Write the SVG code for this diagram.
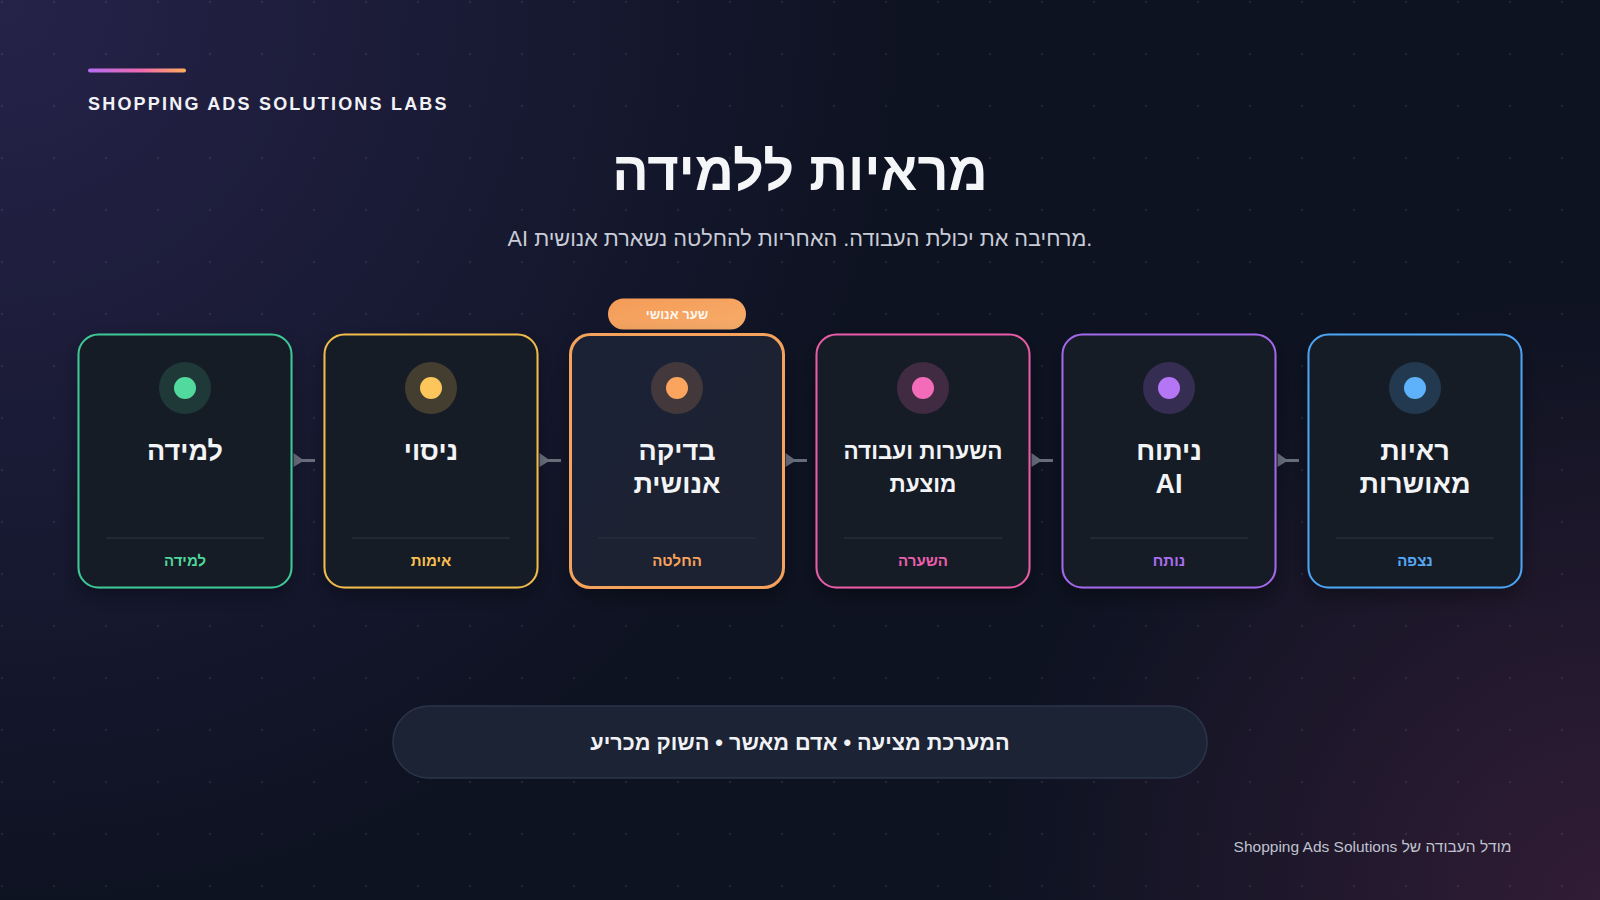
<svg xmlns="http://www.w3.org/2000/svg" width="1600" height="900" viewBox="0 0 1600 900">
<defs>
<radialGradient id="bgTL" cx="0" cy="0" r="900" gradientUnits="userSpaceOnUse">
<stop offset="0" stop-color="#2a2550" stop-opacity="0.85"/>
<stop offset="1" stop-color="#2a2550" stop-opacity="0"/>
</radialGradient>
<radialGradient id="bgBR" cx="1600" cy="900" r="600" gradientUnits="userSpaceOnUse">
<stop offset="0" stop-color="#3a1f3a" stop-opacity="0.8"/>
<stop offset="1" stop-color="#3a1f3a" stop-opacity="0"/>
</radialGradient>
<pattern id="dots" x="0" y="0" width="52" height="52" patternUnits="userSpaceOnUse">
<circle cx="2" cy="2" r="1.1" fill="#ffffff" fill-opacity="0.09"/>
</pattern>
<linearGradient id="accent" x1="0" y1="0" x2="1" y2="0">
<stop offset="0" stop-color="#b36cf2"/>
<stop offset="0.55" stop-color="#f06aae"/>
<stop offset="1" stop-color="#ffad5e"/>
</linearGradient>
<linearGradient id="badge" x1="0" y1="0" x2="1" y2="1">
<stop offset="0" stop-color="#f59b58"/>
<stop offset="1" stop-color="#f7ad6a"/>
</linearGradient>
<linearGradient id="card" x1="0" y1="0" x2="0" y2="1">
<stop offset="0" stop-color="#171c28"/>
<stop offset="1" stop-color="#151a25"/>
</linearGradient>
<linearGradient id="cardHi" x1="0" y1="0" x2="1" y2="1">
<stop offset="0" stop-color="#1c2336"/>
<stop offset="1" stop-color="#1a2030"/>
</linearGradient>
<filter id="shadow" x="-20%" y="-20%" width="140%" height="150%">
<feDropShadow dx="0" dy="8" stdDeviation="10" flood-color="#000000" flood-opacity="0.35"/>
</filter>
</defs>
<style>
.t{font-family:"Liberation Sans","DejaVu Sans",sans-serif}
.cardbox{fill:url(#card);stroke-width:2}
.title{font-size:27px;font-weight:bold;fill:#f3f4f6;text-anchor:middle}
.small{font-size:22.5px}
.lbl{font-size:15px;font-weight:bold;text-anchor:middle}
.div{stroke:#272d3b;stroke-width:1.5}
.conn{stroke:#6b7280;stroke-width:3;fill:none}
.arr{fill:#6b7280}
</style>
<rect width="1600" height="900" fill="#0e1322"/>
<rect width="1600" height="900" fill="url(#bgTL)"/>
<rect width="1600" height="900" fill="url(#bgBR)"/>
<rect width="1600" height="900" fill="url(#dots)"/>

<g id="header">
<rect x="88" y="68.5" width="98" height="4" rx="2" fill="url(#accent)"/>
<text class="t" x="88" y="110" font-size="18" font-weight="bold" letter-spacing="2.2" fill="#f1f2f6">SHOPPING ADS SOLUTIONS LABS</text>
<text class="t" x="800" y="190" font-size="54" font-weight="bold" fill="#f5f6f8" text-anchor="middle">מראיות ללמידה</text>
<text class="t" x="800" y="246" font-size="21.7" fill="#c9ccd6" text-anchor="middle">AI מרחיבה את יכולת העבודה. האחריות להחלטה נשארת אנושית.</text>
</g>

<g id="connectors">
<polygon class="arr" points="293.5,453 293.5,467 304,460.5"/><line class="conn" x1="300" y1="460.5" x2="315" y2="460.5"/>
<polygon class="arr" points="539.5,453 539.5,467 550,460.5"/><line class="conn" x1="546" y1="460.5" x2="561" y2="460.5"/>
<polygon class="arr" points="785.5,453 785.5,467 796,460.5"/><line class="conn" x1="792" y1="460.5" x2="807" y2="460.5"/>
<polygon class="arr" points="1031.5,453 1031.5,467 1042,460.5"/><line class="conn" x1="1038" y1="460.5" x2="1053" y2="460.5"/>
<polygon class="arr" points="1277.5,453 1277.5,467 1288,460.5"/><line class="conn" x1="1284" y1="460.5" x2="1299" y2="460.5"/>
</g>

<g id="node-learning">
<rect class="cardbox" x="78.5" y="334.5" width="213" height="253" rx="20" stroke="#3ec996" filter="url(#shadow)"/>
<circle cx="185" cy="388" r="26" fill="#4fd69b" fill-opacity="0.16"/>
<circle cx="185" cy="388" r="11" fill="#52d99d"/>
<text class="t title" x="185" y="460">למידה</text>
<line class="div" x1="106" y1="538" x2="264" y2="538"/>
<text class="t lbl" x="185" y="566" fill="#4fd69b">למידה</text>
</g>

<g id="node-trial">
<rect class="cardbox" x="324.5" y="334.5" width="213" height="253" rx="20" stroke="#f2bc4c" filter="url(#shadow)"/>
<circle cx="431" cy="388" r="26" fill="#fcc75a" fill-opacity="0.2"/>
<circle cx="431" cy="388" r="11" fill="#fdc65c"/>
<text class="t title" x="431" y="460">ניסוי</text>
<line class="div" x1="352" y1="538" x2="510" y2="538"/>
<text class="t lbl" x="431" y="566" fill="#f7bf4f">אימות</text>
</g>

<g id="node-human">
<rect x="608" y="298.5" width="138" height="31" rx="15.5" fill="url(#badge)"/>
<text class="t" x="677" y="319" font-size="13" font-weight="bold" fill="#fff7ef" text-anchor="middle">שער אנושי</text>
<rect x="570.5" y="334.5" width="213" height="253" rx="20" fill="url(#cardHi)" stroke="#f5a25c" stroke-width="3" filter="url(#shadow)"/>
<circle cx="677" cy="388" r="26" fill="#f9a35c" fill-opacity="0.18"/>
<circle cx="677" cy="388" r="11" fill="#fba45e"/>
<text class="t title" x="677" y="460" font-size="26.5">בדיקה</text>
<text class="t title" x="677" y="493" font-size="26.5">אנושית</text>
<line class="div" x1="598" y1="538" x2="756" y2="538"/>
<text class="t lbl" x="677" y="566" fill="#f9a35c">החלטה</text>
</g>

<g id="node-hypotheses">
<rect class="cardbox" x="816.5" y="334.5" width="213" height="253" rx="20" stroke="#e95ba6" filter="url(#shadow)"/>
<circle cx="923" cy="388" r="26" fill="#f06bb5" fill-opacity="0.2"/>
<circle cx="923" cy="388" r="11" fill="#f36cba"/>
<text class="t title small" x="923" y="459">השערות ועבודה</text>
<text class="t title small" x="923" y="492">מוצעת</text>
<line class="div" x1="844" y1="538" x2="1002" y2="538"/>
<text class="t lbl" x="923" y="566" fill="#ee5fae">השערה</text>
</g>

<g id="node-ai">
<rect class="cardbox" x="1062.5" y="334.5" width="213" height="253" rx="20" stroke="#a468ea" filter="url(#shadow)"/>
<circle cx="1169" cy="388" r="26" fill="#a66cf0" fill-opacity="0.22"/>
<circle cx="1169" cy="388" r="11" fill="#b476f4"/>
<text class="t title" x="1169" y="460">ניתוח</text>
<text class="t title" x="1169" y="493">AI</text>
<line class="div" x1="1090" y1="538" x2="1248" y2="538"/>
<text class="t lbl" x="1169" y="566" fill="#aa6ef0">נותח</text>
</g>

<g id="node-evidence">
<rect class="cardbox" x="1308.5" y="334.5" width="213" height="253" rx="20" stroke="#4ca5f4" filter="url(#shadow)"/>
<circle cx="1415" cy="388" r="26" fill="#5aaef8" fill-opacity="0.2"/>
<circle cx="1415" cy="388" r="11" fill="#5db2fb"/>
<text class="t title" x="1415" y="460" font-size="26">ראיות</text>
<text class="t title" x="1415" y="493" font-size="26">מאושרות</text>
<line class="div" x1="1336" y1="538" x2="1494" y2="538"/>
<text class="t lbl" x="1415" y="566" fill="#56a9f6">נצפה</text>
</g>

<g id="summary">
<rect x="393" y="706" width="814" height="72" rx="36" fill="#1b2334" stroke="#2c3549" stroke-width="1.5"/>
<text class="t" x="800" y="750" font-size="21.7" font-weight="bold" fill="#f1f2f5" text-anchor="middle">המערכת מציעה • אדם מאשר • השוק מכריע</text>
</g>

<g id="footer">
<text class="t" x="1372.5" y="852" font-size="15.5" fill="#bfc3cf" text-anchor="middle" direction="rtl">מודל העבודה של Shopping Ads Solutions</text>
</g>
</svg>
